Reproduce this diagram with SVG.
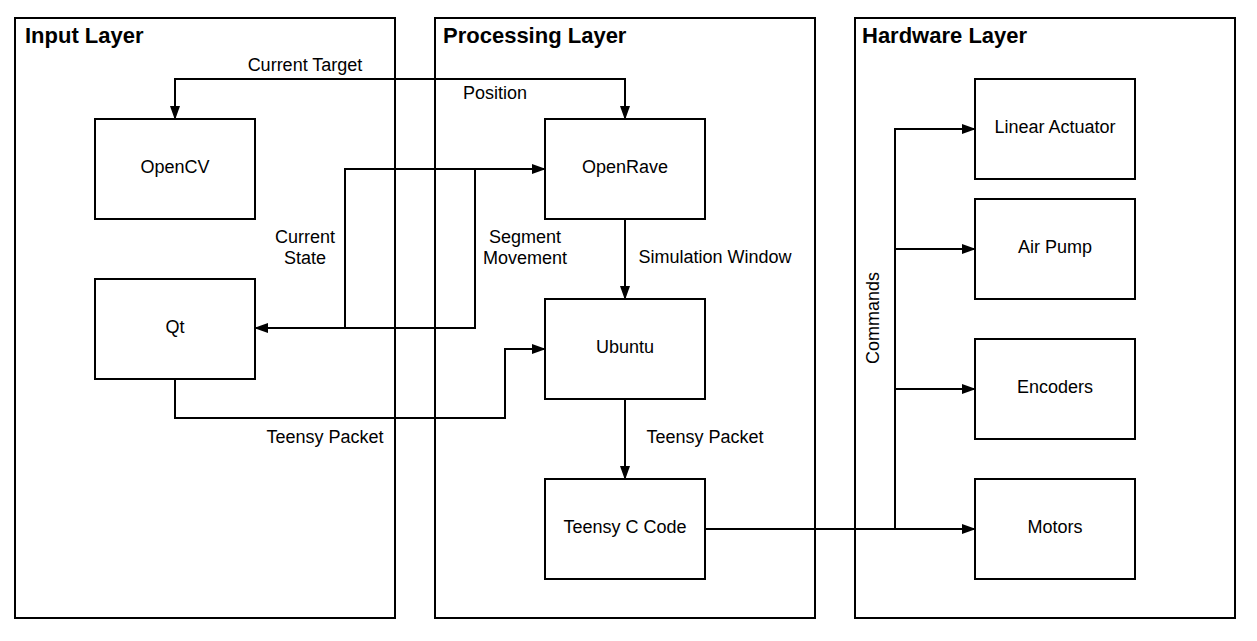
<svg xmlns="http://www.w3.org/2000/svg" width="1257" height="641" viewBox="0 0 1257 641">
<style>
.layer{fill:#fff;stroke:#000;stroke-width:2}
.node{fill:#fff;stroke:#000;stroke-width:2}
.title{font-family:"Liberation Sans",Arial,sans-serif;font-size:22px;font-weight:bold;fill:#000}
.nt{font-family:"Liberation Sans",Arial,sans-serif;font-size:18px;fill:#000;text-anchor:middle;dominant-baseline:central}
.lbl{font-family:"Liberation Sans",Arial,sans-serif;font-size:18px;fill:#000;text-anchor:middle}
.edge{fill:none;stroke:#000;stroke-width:2;marker-end:url(#arr)}
</style>
<defs>
<marker id="arr" viewBox="0 0 14 10" refX="13" refY="5" markerWidth="14" markerHeight="10" markerUnits="userSpaceOnUse" orient="auto">
<path d="M0,0 L14,5 L0,10 Z" fill="#000"/>
</marker>
</defs>
<g id="layer-input"><rect class="layer" x="15" y="18" width="380" height="600"/><text class="title" x="25" y="43">Input Layer</text></g>
<g id="layer-processing"><rect class="layer" x="435" y="18" width="380" height="600"/><text class="title" x="443" y="43">Processing Layer</text></g>
<g id="layer-hardware"><rect class="layer" x="855" y="18" width="380" height="600"/><text class="title" x="862" y="43">Hardware Layer</text></g>

<g id="connectors">
<path class="edge" d="M625,79 H175 V119"/>
<path class="edge" d="M175,79 H625 V119"/>
<path class="edge" d="M545,169 H345 V328 H255"/>
<path class="edge" d="M255,328 H475 V169 H545"/>
<path class="edge" d="M175,379 V418 H505 V349 H545"/>
<path class="edge" d="M625,219 V299"/>
<path class="edge" d="M625,399 V479"/>
<path class="edge" d="M705,529 H975"/>
<path class="edge" d="M895,529 V129 H975"/>
<path class="edge" d="M895,249 H975"/>
<path class="edge" d="M895,389 H975"/>
<text class="lbl" x="305" y="71">Current Target</text>
<text class="lbl" x="495" y="99">Position</text>
<text class="lbl" x="305" y="243">Current</text>
<text class="lbl" x="305" y="264">State</text>
<text class="lbl" x="525" y="243">Segment</text>
<text class="lbl" x="525" y="264">Movement</text>
<text class="lbl" x="715" y="263">Simulation Window</text>
<text class="lbl" x="325" y="443">Teensy Packet</text>
<text class="lbl" x="705" y="443">Teensy Packet</text>
<text class="lbl" transform="translate(879,318) rotate(-90)">Commands</text>
</g>

<g id="node-opencv"><rect class="node" x="95" y="119" width="160" height="100"/><text class="nt" x="175" y="167">OpenCV</text></g>
<g id="node-qt"><rect class="node" x="95" y="279" width="160" height="100"/><text class="nt" x="175" y="327">Qt</text></g>
<g id="node-openrave"><rect class="node" x="545" y="119" width="160" height="100"/><text class="nt" x="625" y="167">OpenRave</text></g>
<g id="node-ubuntu"><rect class="node" x="545" y="299" width="160" height="100"/><text class="nt" x="625" y="347">Ubuntu</text></g>
<g id="node-teensy"><rect class="node" x="545" y="479" width="160" height="100"/><text class="nt" x="625" y="527">Teensy C Code</text></g>
<g id="node-linear"><rect class="node" x="975" y="79" width="160" height="100"/><text class="nt" x="1055" y="127">Linear Actuator</text></g>
<g id="node-airpump"><rect class="node" x="975" y="199" width="160" height="100"/><text class="nt" x="1055" y="247">Air Pump</text></g>
<g id="node-encoders"><rect class="node" x="975" y="339" width="160" height="100"/><text class="nt" x="1055" y="387">Encoders</text></g>
<g id="node-motors"><rect class="node" x="975" y="479" width="160" height="100"/><text class="nt" x="1055" y="527">Motors</text></g>
</svg>
